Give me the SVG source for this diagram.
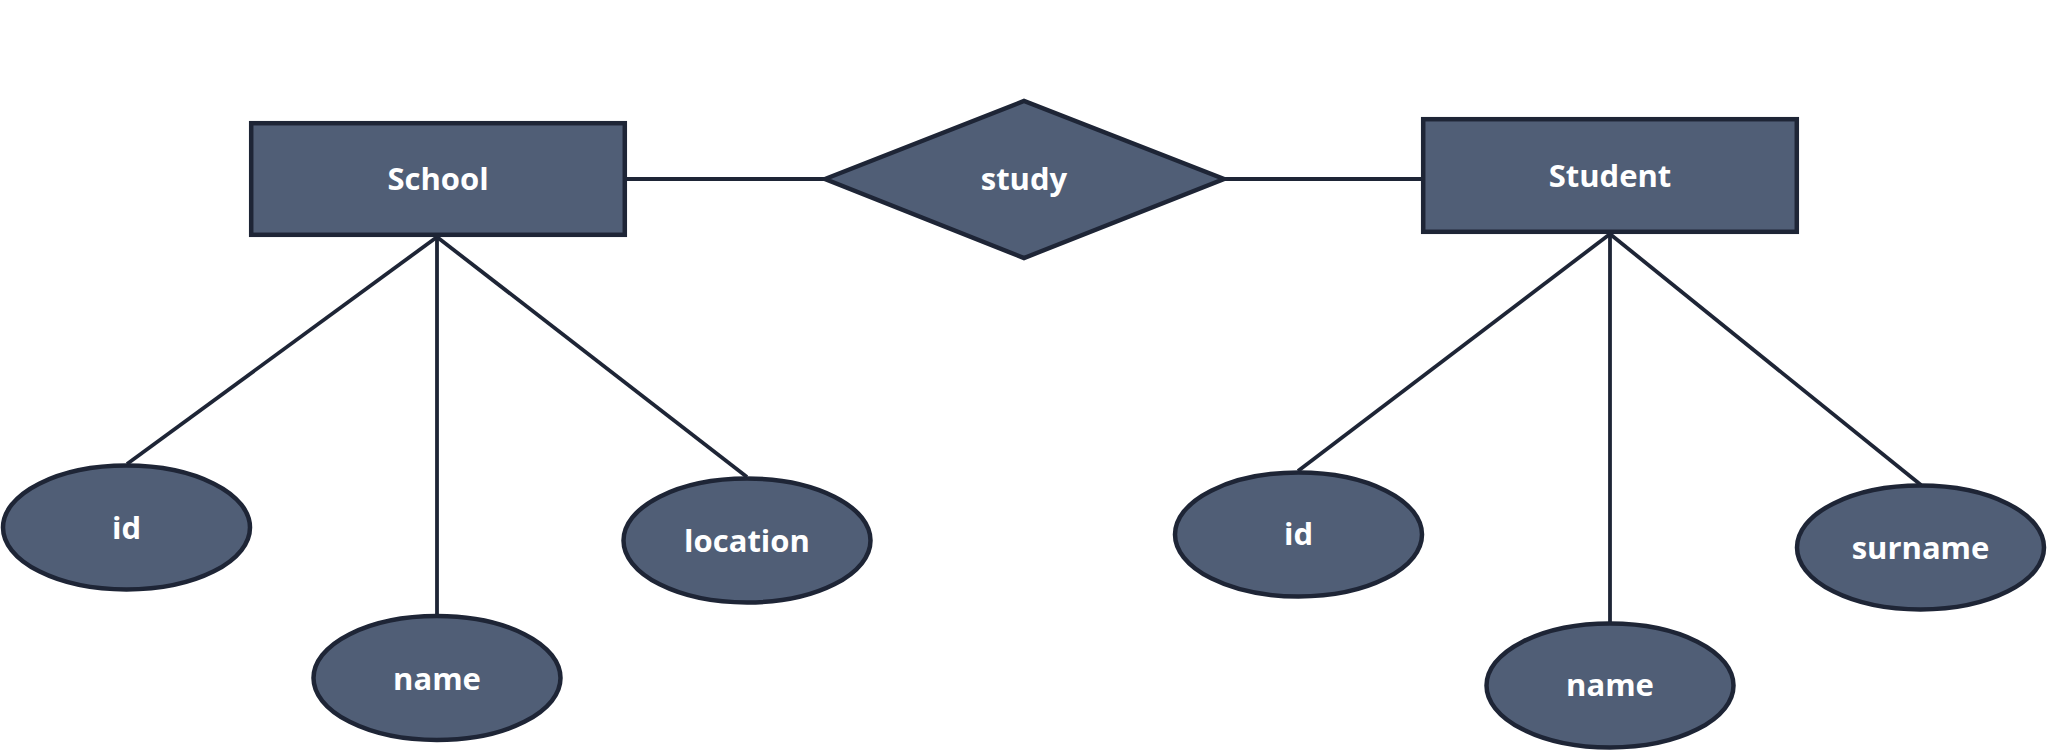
<svg xmlns="http://www.w3.org/2000/svg" width="2048" height="751" viewBox="0 0 2048 751">
<style>
.shape{fill:#505e76;stroke:#1e2536;stroke-width:4.5}
.lbl{font-family:"Open Sans","Noto Sans",sans-serif;font-weight:700;font-size:31px;fill:#ffffff;text-anchor:middle}
.conn line{stroke:#1e2536;stroke-width:3.8;fill:none}
</style>
<rect width="2048" height="751" fill="#ffffff"/>
<g id="connectors" class="conn">
<line x1="627" y1="179" x2="824" y2="179"/>
<line x1="1225" y1="179" x2="1421" y2="179"/>
<line x1="437" y1="237" x2="127" y2="464"/>
<line x1="437" y1="237" x2="437" y2="616"/>
<line x1="437" y1="237" x2="747" y2="477"/>
<line x1="1610" y1="234" x2="1298" y2="471"/>
<line x1="1610" y1="234" x2="1610" y2="623"/>
<line x1="1610" y1="234" x2="1921" y2="485"/>
</g>
<g id="school">
<rect class="shape" x="251.2" y="123.2" width="373.6" height="111.6"/>
<text class="lbl" x="438" y="190">School</text>
</g>
<g id="study">
<polygon class="shape" points="825,179 1024,101 1224,179 1024,258"/>
<text class="lbl" x="1024" y="190">study</text>
</g>
<g id="student">
<rect class="shape" x="1423.2" y="119.2" width="373.6" height="112.6"/>
<text class="lbl" x="1610" y="187">Student</text>
</g>
<g id="school-id">
<ellipse class="shape" cx="126.5" cy="527.5" rx="123.5" ry="62"/>
<text class="lbl" x="126.5" y="539">id</text>
</g>
<g id="school-name">
<ellipse class="shape" cx="437" cy="678" rx="123.5" ry="62"/>
<text class="lbl" x="437" y="690">name</text>
</g>
<g id="school-location">
<ellipse class="shape" cx="747" cy="540.5" rx="123.5" ry="62"/>
<text class="lbl" x="747" y="552">location</text>
</g>
<g id="student-id">
<ellipse class="shape" cx="1298.5" cy="534.5" rx="123.5" ry="62"/>
<text class="lbl" x="1298.5" y="545">id</text>
</g>
<g id="student-name">
<ellipse class="shape" cx="1610" cy="685.5" rx="123.5" ry="62"/>
<text class="lbl" x="1610" y="696">name</text>
</g>
<g id="student-surname">
<ellipse class="shape" cx="1920.5" cy="547.5" rx="123.5" ry="62"/>
<text class="lbl" x="1920.5" y="559">surname</text>
</g>
</svg>
